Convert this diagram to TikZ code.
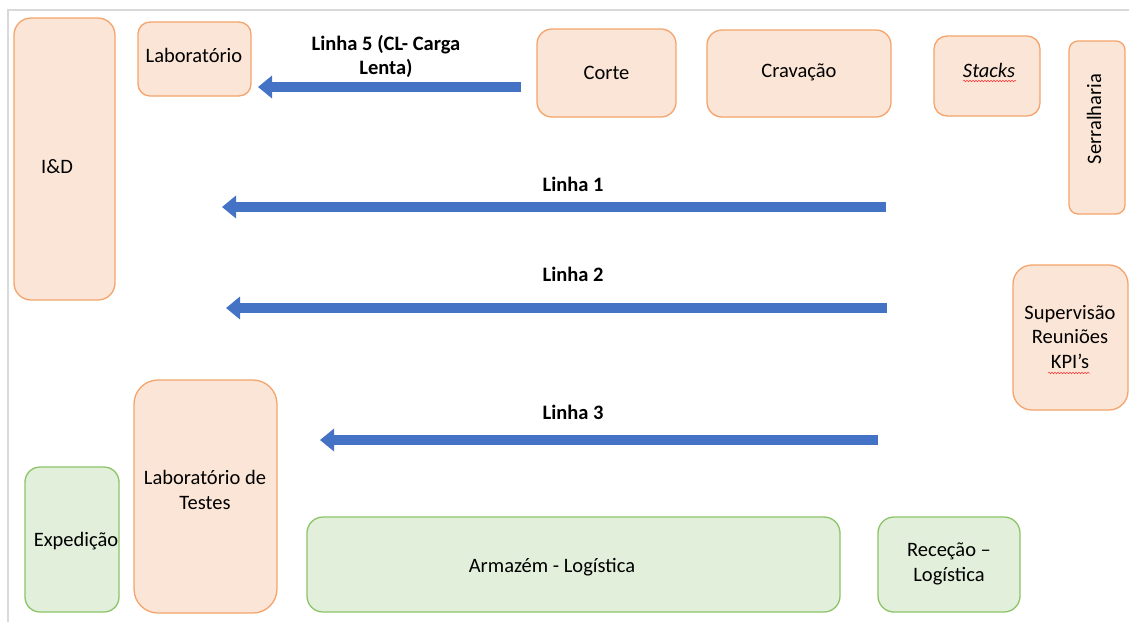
\documentclass[tikz,border=0pt]{standalone}
\usepackage{fontspec}
\setmainfont{Carlito}
\usetikzlibrary{arrows.meta,decorations.pathmorphing}
\definecolor{ofill}{HTML}{FBE5D6}
\definecolor{oline}{HTML}{F4A46C}
\definecolor{gfill}{HTML}{E2EFDA}
\definecolor{gline}{HTML}{8CC468}
\definecolor{arrblue}{HTML}{4472C4}
\definecolor{frame}{HTML}{D9D9D9}
\tikzset{
  obox/.style={draw=oline, fill=ofill, line width=1.3pt, inner sep=0pt},
  gbox/.style={draw=gline, fill=gfill, line width=1.3pt, inner sep=0pt},
  txt/.style={align=center, inner sep=0pt, font=\fontsize{20.5}{24.5}\selectfont},
  btxt/.style={txt, font=\fontsize{20.5}{24}\selectfont\bfseries},
  flow/.style={draw=arrblue, line width=10pt, -{Triangle[width=22pt,length=14pt]}},
  squig/.style={draw=red!80, line width=0.5pt, decorate, decoration={snake, amplitude=0.7pt, segment length=3pt}}
}
\begin{document}
\begin{tikzpicture}[x=1pt,y=-1pt]
\useasboundingbox (0,0) rectangle (1129,622);
% frame lines
\draw[frame, line width=2pt] (8,622) -- (8,10) -- (1129,10);
% orange boxes
\node[obox, rounded corners=17pt, minimum width=101pt, minimum height=282pt] (id) at (64.5,159) {};
\node[txt] (idt) at (57,167) {I\&D};
\node[obox, rounded corners=12pt, minimum width=113pt, minimum height=74pt] (lab) at (194.5,59) {};
\node[txt] (labt) at (194,55) {Laboratório};
\node[obox, rounded corners=15pt, minimum width=139pt, minimum height=88pt] (corte) at (606.5,73) {};
\node[txt] (cortet) at (606.5,73) {Corte};
\node[obox, rounded corners=15pt, minimum width=184pt, minimum height=87pt] (crav) at (799,73.5) {};
\node[txt] (cravt) at (799,72.5) {Cravação};
\node[obox, rounded corners=13pt, minimum width=106pt, minimum height=80pt] (stacks) at (987,76) {};
\node[txt, font=\fontsize{20.5}{24}\selectfont\itshape] (stackst) at (989,70) {Stacks};
\draw[squig] (963,81) -- (1016,81);
\node[obox, rounded corners=9pt, minimum width=56pt, minimum height=173pt] (serr) at (1097,127.5) {};
\node[txt, rotate=90] (serrt) at (1094,119) {Serralharia};
\node[obox, rounded corners=19pt, minimum width=115pt, minimum height=145pt] (sup) at (1070.5,337.5) {};
\node[txt] (supt) at (1070,337) {Supervisão\\Reuniões\\KPI’s};
\draw[squig] (1048,373) -- (1090,373);
\node[obox, rounded corners=24pt, minimum width=143pt, minimum height=233pt] (labt2) at (205.5,496.5) {};
\node[txt] (labt2t) at (205,490) {Laboratório de\\Testes};
% green boxes
\node[gbox, rounded corners=15pt, minimum width=94pt, minimum height=145pt] (exp) at (72,539.5) {};
\node[txt] (expt) at (76,541) {Expedição};
\node[gbox, rounded corners=16pt, minimum width=533pt, minimum height=95pt] (arm) at (573.5,564.5) {};
\node[txt] (armt) at (552,567) {Armazém - Logística};
\node[gbox, rounded corners=16pt, minimum width=142pt, minimum height=95pt] (rec) at (949,564.5) {};
\node[txt] (rect) at (949,564) {Receção –\\Logística};
% arrows
\coordinate (l5s) at (521,87);  \coordinate (l5e) at (258,87);
\coordinate (l1s) at (886,207); \coordinate (l1e) at (222,207);
\coordinate (l2s) at (887,308); \coordinate (l2e) at (226,308);
\coordinate (l3s) at (878,440); \coordinate (l3e) at (320,440);
\draw[flow] (l5s) -- (l5e);
\draw[flow] (l1s) -- (l1e);
\draw[flow] (l2s) -- (l2e);
\draw[flow] (l3s) -- (l3e);
\node[btxt] (l5t) at (386,56) {Linha 5 (CL- Carga\\Lenta)};
\node[btxt] (l1t) at (573,184) {Linha 1};
\node[btxt] (l2t) at (573,274) {Linha 2};
\node[btxt] (l3t) at (573,412) {Linha 3};
\end{tikzpicture}
\end{document}
